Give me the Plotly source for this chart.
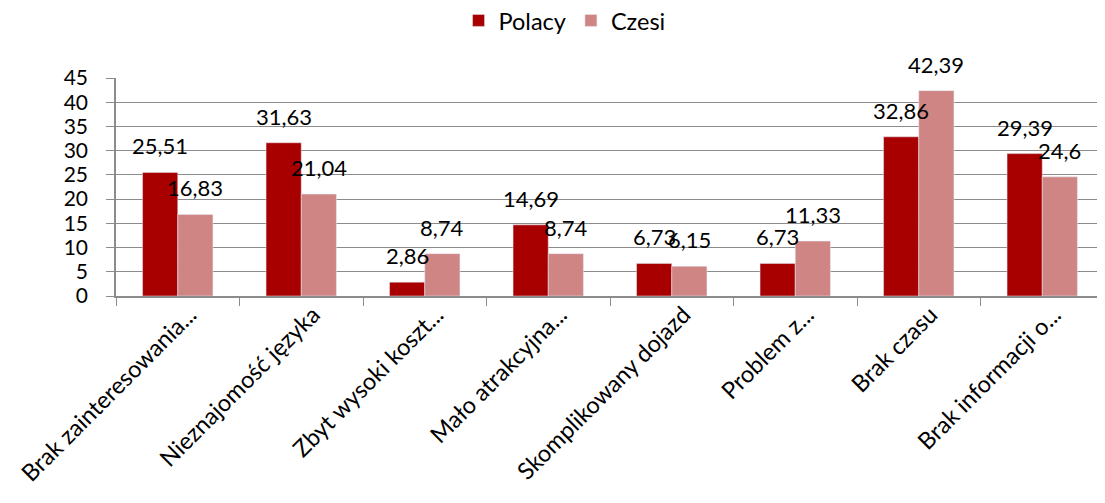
import plotly.graph_objects as go

# -------------------------
# DATA
# -------------------------
categories = [
    "Brak zainteresowania...",
    "Nieznajomość języka",
    "Zbyt wysoki koszt...",
    "Mało atrakcyjna...",
    "Skomplikowany dojazd",
    "Problem z...",
    "Brak czasu",
    "Brak informacji o...",
]
polacy = [25.51, 31.63, 2.86, 14.69, 6.73, 6.73, 32.86, 29.39]
czesi = [16.83, 21.04, 8.74, 8.74, 6.15, 11.33, 42.39, 24.6]

y_ticks = list(range(0, 50, 5))

# -------------------------
# STYLE
# -------------------------
c_pl = "#A80000"
c_cz = "#D08585"
font = "Lato, 'Open Sans', sans-serif"
grid = "#8C8C8C"

fig = go.Figure()
fig.add_trace(go.Bar(name="Polacy", x=categories, y=polacy, marker_color=c_pl))
fig.add_trace(go.Bar(name="Czesi", x=categories, y=czesi, marker_color=c_cz))


def fmt(v):
    return ("%g" % v).replace(".", ",")


# data labels, above each bar (Excel style)
annos = []
for cat, a, b in zip(categories, polacy, czesi):
    for val, shift in ((a, -17.5), (b, 17.5)):
        annos.append(dict(
            x=cat, y=val, xref="x", yref="y", text=fmt(val),
            showarrow=False, xshift=shift, yshift=11, yanchor="bottom",
            font=dict(size=22, color="#000000", family=font),
        ))

# page body has an 8px margin -> figure is 8px smaller than the window
fig.update_layout(
    width=1097, height=495,
    margin=dict(l=108, r=1, t=70, b=207, autoexpand=False),
    paper_bgcolor="white", plot_bgcolor="white",
    barmode="group", bargap=0.43, bargroupgap=0,
    font=dict(family=font, color="#000000"),
    legend=dict(
        orientation="h", x=0.454, xanchor="center", y=1.364,
        yanchor="top", font=dict(size=23.5), itemwidth=30,
    ),
    annotations=annos,
    xaxis=dict(
        tickangle=-45, tickfont=dict(size=23.5), automargin=False,
        ticklabelshift=12, ticklabelstandoff=-6,
        showline=True, linecolor=grid, linewidth=1.5,
        ticks="outside", tickson="boundaries", ticklen=8, tickcolor=grid,
        showgrid=False,
    ),
    yaxis=dict(
        range=[0, 45], tickvals=y_ticks, tickfont=dict(size=21),
        automargin=False, ticklabelstandoff=14,
        showline=True, linecolor=grid, linewidth=1.5,
        ticks="outside", ticklen=8, tickcolor=grid,
        showgrid=True, gridcolor=grid, gridwidth=1.2,
        zeroline=False,
    ),
)

fig.write_html("out.html")
